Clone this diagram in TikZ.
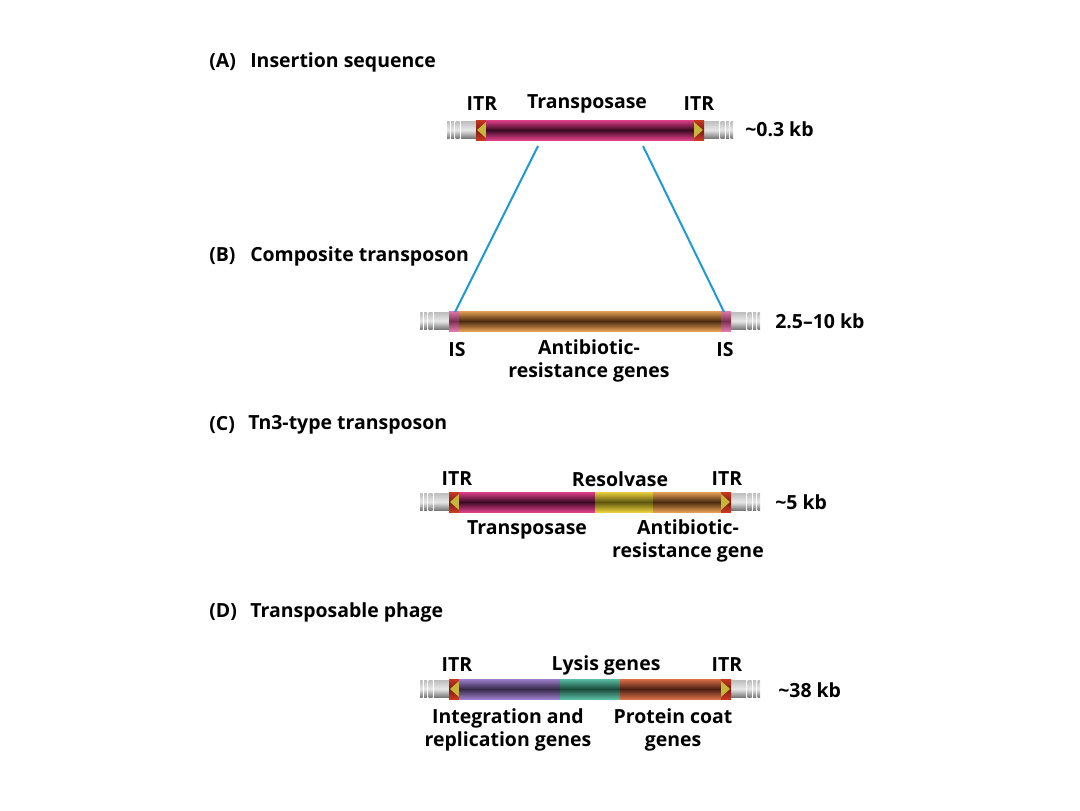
\documentclass[tikz,border=0pt]{standalone}
\usepackage{fontspec}
\setmainfont{Open Sans}
\usetikzlibrary{positioning}

\definecolor{isblue}{HTML}{1F9AD6}
\definecolor{capred}{HTML}{C83A22}
\definecolor{capdark}{HTML}{7A1A10}
\definecolor{itryellow}{HTML}{C9B43C}
\definecolor{tpaseedge}{HTML}{E0408A}
\definecolor{tpasedark}{HTML}{3A0A22}
\definecolor{abedge}{HTML}{E4A054}
\definecolor{abdark}{HTML}{4A2A10}
\definecolor{isedge}{HTML}{E07AAE}
\definecolor{isdark}{HTML}{7A3050}
\definecolor{resedge}{HTML}{E8D03A}
\definecolor{resdark}{HTML}{5E5610}
\definecolor{purpedge}{HTML}{9C80CC}
\definecolor{purpdark}{HTML}{362848}
\definecolor{tealedge}{HTML}{5ABCA4}
\definecolor{tealdark}{HTML}{1A4A3A}
\definecolor{coatedge}{HTML}{D8704A}
\definecolor{coatdark}{HTML}{4A1E10}

\tikzset{
  greyshade/.style={top color=gray!50, bottom color=black!55, middle color=white!82!gray},
  capshade/.style={top color=capred, bottom color=capred, middle color=capdark}
}

% grey DNA ends: left end x, right end x, centre y
\newcommand{\dnaends}[3]{%
  \foreach \a/\b in {-29/-26.5,-25/-22,-20.5/-16.5,-15/0}
    \shade[greyshade] (#1+\a,#3-8.5) rectangle (#1+\b,#3+8.5);
  \foreach \a/\b in {0/15,16.5/20.5,22/25,26.5/29}
    \shade[greyshade] (#2+\a,#3-8.5) rectangle (#2+\b,#3+8.5);
}
% inverted terminal repeats: left x, centre y
\newcommand{\itrleft}[2]{%
  \shade[capshade] (#1,#2-10) rectangle (#1+10,#2+10);
  \fill[itryellow] (#1+1,#2) -- (#1+10,#2-8) -- (#1+10,#2+8) -- cycle;
}
\newcommand{\itrright}[2]{%
  \shade[capshade] (#1,#2-10) rectangle (#1+10,#2+10);
  \fill[itryellow] (#1+9,#2) -- (#1,#2-8) -- (#1,#2+8) -- cycle;
}
% gene block: x from, x to, centre y, edge colour, core colour
\newcommand{\gene}[5]{%
  \shade[top color=#4, bottom color=#4, middle color=#5] (#1,#3-10) rectangle (#2,#3+10);
}

\begin{document}
\begin{tikzpicture}[
    x=0.75pt, y=-0.75pt,
    lbl/.style={font=\bfseries\fontsize{14.6}{17.3}\selectfont, inner sep=0pt, align=center},
    head/.style={lbl, anchor=west},
    size/.style={lbl, anchor=west},
    cutline/.style={isblue, line width=1.5pt}
]
    \useasboundingbox (0,0) rectangle (1080,810);

    % (A) Insertion sequence
    \node[head] (hA) at (209,62) {(A)};
    \node[head] (tA) at (250,62) {Insertion sequence};
    \dnaends{476}{704}{130}
    \itrleft{476}{130}
    \gene{486}{694}{130}{tpaseedge}{tpasedark}
    \itrright{694}{130}
    \node[lbl] (aITRl) at (482,104) {ITR};
    \node[lbl] (aTp) at (587,104) {Transposase};
    \node[lbl] (aITRr) at (699,104) {ITR};
    \node[size] (aSize) at (745,129) {\textasciitilde0.3 kb};
    \coordinate (aCutL) at (538,146);
    \coordinate (aCutR) at (643,146);

    % (B) Composite transposon
    \node[head] (hB) at (209,256) {(B)};
    \node[head] (tB) at (250,256) {Composite transposon};
    \dnaends{449}{731}{321}
    \gene{449}{459}{321}{isedge}{isdark}
    \gene{459}{721}{321}{abedge}{abdark}
    \gene{721}{731}{321}{isedge}{isdark}
    \coordinate (bISl) at (455,312);
    \coordinate (bISr) at (724,312);
    \node[lbl] (bISlt) at (457,350) {IS};
    \node[lbl] (bAb) at (589,361) {Antibiotic-\\resistance genes};
    \node[lbl] (bISrt) at (725,350) {IS};
    \node[size] (bSize) at (775,321) {2.5–10 kb};

    % cut lines from A to B
    \draw[cutline] (aCutL) -- (bISl);
    \draw[cutline] (aCutR) -- (bISr);

    % (C) Tn3-type transposon
    \node[head] (hC) at (209,425) {(C)};
    \node[head] (tC) at (248,425) {Tn3-type transposon};
    \dnaends{449}{731}{502}
    \itrleft{449}{502}
    \gene{459}{595}{502}{tpaseedge}{tpasedark}
    \gene{595}{653}{502}{resedge}{resdark}
    \gene{653}{722}{502}{abedge}{abdark}
    \itrright{721}{502}
    \node[lbl] (cITRl) at (457,479) {ITR};
    \node[lbl] (cRes) at (620,479) {Resolvase};
    \node[lbl] (cITRr) at (727,479) {ITR};
    \node[size] (cSize) at (775,502) {\textasciitilde5 kb};
    \node[lbl] (cTp) at (527,530) {Transposase};
    \node[lbl] (cAb) at (688,541) {Antibiotic-\\resistance gene};

    % (D) Transposable phage
    \node[head] (hD) at (209,612) {(D)};
    \node[head] (tD) at (250,612) {Transposable phage};
    \dnaends{449}{731}{689}
    \itrleft{449}{689}
    \gene{459}{560}{689}{purpedge}{purpdark}
    \gene{560}{620}{689}{tealedge}{tealdark}
    \gene{620}{722}{689}{coatedge}{coatdark}
    \itrright{721}{689}
    \node[lbl] (dITRl) at (457,665) {ITR};
    \node[lbl] (dLys) at (606,665) {Lysis genes};
    \node[lbl] (dITRr) at (727,665) {ITR};
    \node[size] (dSize) at (778,690) {\textasciitilde38 kb};
    \node[lbl] (dInt) at (508,730) {Integration and\\replication genes};
    \node[lbl] (dCoat) at (673,730) {Protein coat\\genes};
\end{tikzpicture}
\end{document}
